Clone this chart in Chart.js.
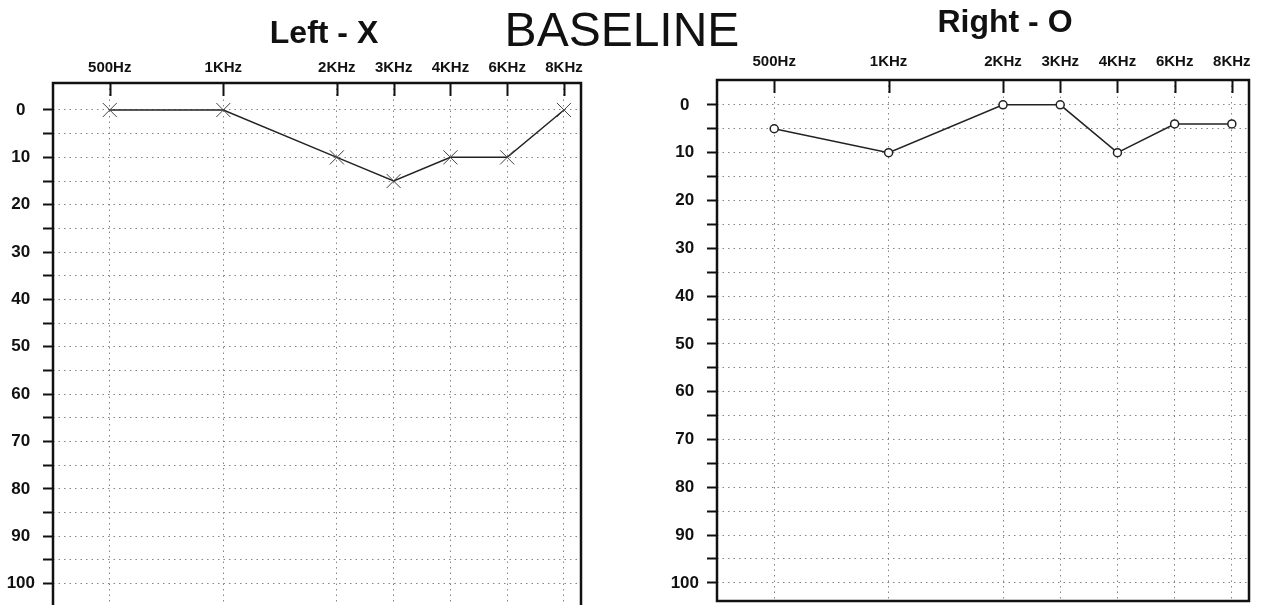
<!DOCTYPE html>
<html><head><meta charset="utf-8">
<script src="https://cdn.jsdelivr.net/npm/chart.js@4.4.1/dist/chart.umd.min.js"></script>
<style>
html,body{margin:0;padding:0;background:#fff;width:1271px;height:605px;overflow:hidden;position:relative;font-family:"Liberation Sans",Arial,sans-serif;}
canvas{position:absolute;top:0;}
#cL{left:0;} #cR{left:640px;}
.t{position:absolute;white-space:nowrap;color:#111;transform:translateX(-50%);line-height:1;}
</style></head><body>
<canvas id="cL" width="640" height="620"></canvas>
<canvas id="cR" width="631" height="605"></canvas>
<div class="t" style="left:324px;top:16px;font-weight:bold;font-size:32px;">Left - X</div>
<div class="t" style="left:622px;top:6px;font-size:48px;">BASELINE</div>
<div class="t" style="left:1005px;top:5px;font-weight:bold;font-size:32px;">Right - O</div>
<script>
// ---- data ----
const freqLabels = ['500Hz','1KHz','2KHz','3KHz','4KHz','6KHz','8KHz'];
// audiogram column of each frequency (half-octave steps from 500Hz)
const freqSteps = [0, 2, 4, 5, 6, 7, 8];
const dbTickValues = [0,5,10,15,20,25,30,35,40,45,50,55,60,65,70,75,80,85,90,95,100];
const dbTickLabels = ['0','','10','','20','','30','','40','','50','','60','','70','','80','','90','','100'];
const leftEar = [0, 0, 10, 15, 10, 10, 0];
const rightEar = [5, 10, 0, 0, 10, 4, 4];

const FAM = "'Liberation Sans', Arial, sans-serif";
Chart.defaults.font.family = FAM;

const framePlugin = {
  id: 'frame',
  afterDraw(chart) {
    const {ctx, chartArea: a, scales: {x}} = chart;
    ctx.save();
    ctx.strokeStyle = '#111';
    ctx.lineWidth = 2;
    x.ticks.forEach(t => {
      const px = Math.round(x.getPixelForValue(t.value)) + 0.5;
      ctx.beginPath(); ctx.moveTo(px, a.top); ctx.lineTo(px, a.top + 13); ctx.stroke();
    });
    ctx.lineWidth = 2.5;
    ctx.strokeRect(a.left, a.top, a.right - a.left, a.bottom - a.top);
    ctx.restore();
  }
};

function makeOptions(cfg) {
  return {
    responsive: false, animation: false,
    layout: {autoPadding: false, padding: {left: 0, right: cfg.padRight, top: 0, bottom: cfg.padBottom}},
    plugins: {legend: {display: false}, tooltip: {enabled: false}},
    scales: {
      x: {
        type: 'linear', position: 'top', min: -1, max: 8.3,
        afterBuildTicks: s => { s.ticks = freqSteps.map(v => ({value: v})); },
        afterFit: s => { s.height = cfg.top; s.paddingLeft = 0; s.paddingRight = 0; },
        ticks: {autoSkip: false, maxRotation: 0, padding: cfg.xPad, color: '#111',
          font: {size: 15, weight: 'bold'}, callback: (v, i) => freqLabels[i]},
        grid: {color: '#858585', lineWidth: 1, drawTicks: false},
        border: {display: false, dash: [1.5, 4]}
      },
      y: {
        type: 'linear', reverse: true, min: cfg.min, max: cfg.max,
        afterBuildTicks: s => { s.ticks = dbTickValues.map(v => ({value: v})); },
        afterFit: s => { s.width = cfg.left; s.paddingTop = 0; s.paddingBottom = 0; },
        ticks: {autoSkip: false, padding: 8, crossAlign: 'center', color: '#111',
          font: {size: 17, weight: 'bold'}, callback: (v, i) => dbTickLabels[i]},
        grid: {color: '#858585', lineWidth: 1, tickColor: '#111', tickWidth: 2, tickLength: 10, tickBorderDash: []},
        border: {display: false, dash: [1.5, 4]}
      }
    }
  };
}

new Chart(document.getElementById('cL'), {
  type: 'line',
  data: {datasets: [{
    data: leftEar.map((v, i) => ({x: freqSteps[i], y: v})),
    borderColor: '#222', borderWidth: 1.5, tension: 0,
    pointStyle: 'crossRot', pointRadius: 10, pointBorderColor: '#444', pointBorderWidth: 1,
    clip: false
  }]},
  options: makeOptions({top: 83, left: 53, padRight: 59, padBottom: 0, min: -5.7, max: 107.7, xPad: 6}),
  plugins: [framePlugin]
});

new Chart(document.getElementById('cR'), {
  type: 'line',
  data: {datasets: [{
    data: rightEar.map((v, i) => ({x: freqSteps[i], y: v})),
    borderColor: '#222', borderWidth: 1.5, tension: 0,
    pointStyle: 'circle', pointRadius: 4, pointBackgroundColor: '#fff',
    pointBorderColor: '#222', pointBorderWidth: 1.5,
    clip: false
  }]},
  options: makeOptions({top: 80, left: 77, padRight: 22, padBottom: 4, min: -5.2, max: 103.8, xPad: 9}),
  plugins: [framePlugin]
});
</script>
</body></html>
